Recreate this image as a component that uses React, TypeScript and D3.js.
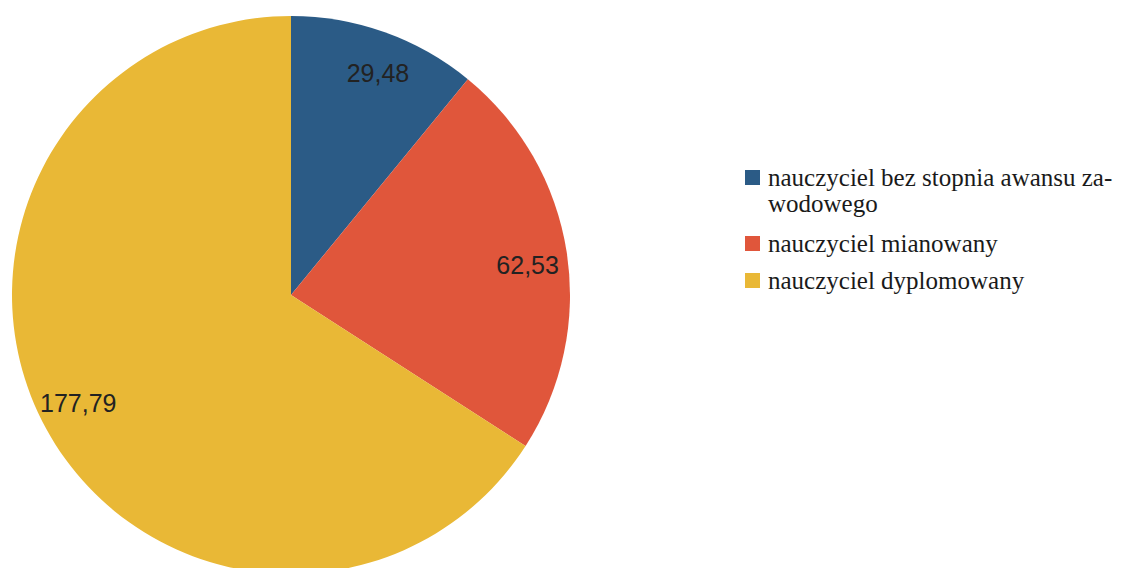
import React, { useEffect, useRef } from 'react';
import * as d3 from 'd3';

const categories = ['nauczyciel bez stopnia awansu zawodowego', 'nauczyciel mianowany', 'nauczyciel dyplomowany'];
const legendLines = [['nauczyciel bez stopnia awansu za-', 'wodowego'], ['nauczyciel mianowany'], ['nauczyciel dyplomowany']];
const values = [29.48, 62.53, 177.79];
const valueLabels = ['29,48', '62,53', '177,79'];
const colors = ['#2b5b86', '#e0563b', '#e9b836'];

const App: React.FC = () => {
  const svgRef = useRef<SVGSVGElement>(null);

  useEffect(() => {
    if (!svgRef.current) return;
    const width = 1126;
    const height = 568;
    const svg = d3.select(svgRef.current);
    svg.selectAll('*').remove();

    svg.append('rect').attr('width', width).attr('height', height).attr('fill', '#ffffff');

    const cx = 291;
    const cy = 295;
    const r = 279;

    const pie = d3.pie<number>().sort(null).value(d => d);
    const arcs = pie(values);
    const arc = d3.arc<d3.PieArcDatum<number>>().innerRadius(0).outerRadius(r);
    const labelArc = d3.arc<d3.PieArcDatum<number>>().innerRadius(r * 0.855).outerRadius(r * 0.855);

    const g = svg.append('g').attr('transform', `translate(${cx},${cy})`);
    g.selectAll('path.slice')
      .data(arcs)
      .enter()
      .append('path')
      .attr('class', 'slice')
      .attr('d', arc)
      .attr('fill', (_, i) => colors[i]);

    // value labels, nudged a bit along the arc like the original layout
    g.selectAll('text.val')
      .data(arcs)
      .enter()
      .append('text')
      .attr('class', 'val')
      .attr('transform', d => {
        const mid = (d.startAngle + d.endAngle) / 2 + 0.03;
        const rr = r * 0.855;
        return `translate(${Math.sin(mid) * rr},${-Math.cos(mid) * rr})`;
      })
      .attr('text-anchor', 'middle')
      .attr('dy', '0.36em')
      .attr('font-family', '"Liberation Sans", Arial, sans-serif')
      .attr('font-size', 25)
      .attr('fill', '#222222')
      .text((_, i) => valueLabels[i]);

    // Legend
    const legend = svg.append('g').attr('transform', 'translate(745,0)');
    const baselines = [186, 252, 289];
    legendLines.forEach((lines, i) => {
      const item = legend.append('g').attr('aria-label', categories[i]);
      item.append('rect')
        .attr('x', 0)
        .attr('y', baselines[i] - 16)
        .attr('width', 15)
        .attr('height', 15)
        .attr('fill', colors[i]);
      const t = item.append('text')
        .attr('x', 23)
        .attr('y', baselines[i])
        .attr('font-family', '"Liberation Serif", "Times New Roman", serif')
        .attr('font-size', 25)
        .attr('fill', '#1a1a1a');
      lines.forEach((line, j) => {
        t.append('tspan').attr('x', 23).attr('dy', j === 0 ? 0 : 26).text(line);
      });
    });
  }, []);

  return (
    <div style={{ position: 'fixed', left: 0, top: 0, width: 1126, height: 568, background: '#fff' }}>
      <svg ref={svgRef} width={1126} height={568} viewBox="0 0 1126 568" style={{ display: 'block' }}></svg>
    </div>
  );
};

export default App;
